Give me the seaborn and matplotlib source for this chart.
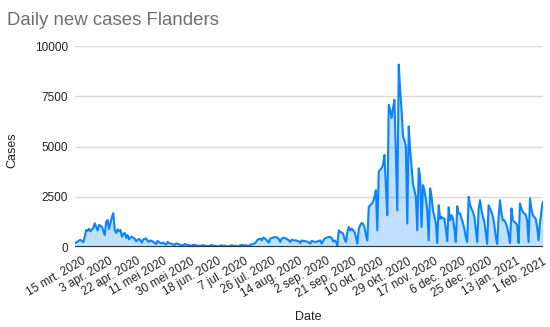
import numpy as np
import pandas as pd
import matplotlib
matplotlib.use("Agg")
import matplotlib.pyplot as plt
import seaborn as sns

# Daily new cases, starting 2020-03-10
cases_mar = [180, 230, 270, 330, 350, 300, 250, 520, 850, 800, 900, 780, 870, 950,
             1180, 1000, 820, 1100, 1050, 1020, 800, 600]
cases_apr = [1260, 1340, 900, 1200, 1500, 1680, 850, 700, 880, 780, 850, 510, 650, 700, 450,
             600, 380, 480, 520, 450, 420, 280, 350, 400, 330, 220, 380, 400, 430, 300]
cases_may = [260, 330, 300, 250, 200, 150, 300, 250, 200, 180, 220, 150, 120, 250, 200, 170,
             150, 130, 100, 180, 160, 130, 110, 90, 80, 150, 120, 100, 90, 70, 60]
cases_jun = [110, 100, 80, 70, 60, 50, 90, 80, 70, 60, 50, 40, 80, 90, 70, 60, 50, 40, 30,
             80, 70, 60, 70, 50, 40, 30, 70, 80, 70, 60]
cases_jul = [60, 40, 40, 90, 100, 90, 80, 90, 60, 50, 120, 130, 150, 180, 250, 350, 400, 415,
             330, 470, 430, 380, 300, 220, 420, 450, 470, 480, 500, 460, 400]
cases_aug = [250, 420, 450, 460, 420, 380, 330, 250, 370, 340, 330, 330, 300, 280, 200, 330,
             300, 300, 280, 260, 230, 170, 300, 280, 260, 250, 280, 300, 330, 170, 300]
cases_sep = [420, 450, 480, 500, 500, 450, 280, 330, 250, 80, 830, 750, 720, 680, 400, 250,
             750, 1000, 830, 920, 830, 750, 500, 170, 900, 1080, 1200, 1150, 1000, 600]
cases_oct = [330, 2000, 2080, 2150, 2250, 2500, 2830, 830, 3750, 3850, 3920, 4080, 4580, 3000,
             1580, 7080, 6830, 6420, 6900, 7330, 4500, 1830, 9080, 7800, 6830, 5500, 5330,
             5000, 1170, 6000, 4830]
cases_nov = [4000, 3170, 2830, 2500, 830, 3920, 3500, 1000, 3080, 2830, 2400, 1830, 330, 2920,
             2500, 1830, 1500, 1200, 200, 2080, 1400, 1500, 1420, 1420, 900, 300, 1970, 1330,
             1580, 1420]
cases_dec = [900, 250, 2030, 1670, 1670, 1420, 1200, 900, 500, 250, 2500, 2100, 1900, 1750,
             1500, 900, 250, 1900, 2330, 1830, 1500, 1250, 700, 150, 2080, 1900, 1750, 1500,
             1100, 500, 150]
cases_jan = [1500, 2330, 1670, 1330, 1330, 1200, 1000, 600, 200, 1920, 1330, 1250, 1200, 1080,
             200, 2170, 1900, 1750, 1670, 1600, 1330, 250, 2420, 1900, 1580, 1500, 1400, 1000,
             330, 1200, 1800]
cases_feb = [2250]

start_date = "2020-03-10"

tick_dates = ["2020-03-15", "2020-04-03", "2020-04-22", "2020-05-11", "2020-05-30",
              "2020-06-18", "2020-07-07", "2020-07-26", "2020-08-14", "2020-09-02",
              "2020-09-21", "2020-10-10", "2020-10-29", "2020-11-17", "2020-12-06",
              "2020-12-25", "2021-01-13", "2021-02-01"]
tick_labels = ["15 mrt. 2020", "3 apr. 2020", "22 apr. 2020", "11 mei 2020", "30 mei 2020",
               "18 jun. 2020", "7 jul. 2020", "26 jul. 2020", "14 aug. 2020", "2 sep. 2020",
               "21 sep. 2020", "10 okt. 2020", "29 okt. 2020", "17 nov. 2020", "6 dec. 2020",
               "25 dec. 2020", "13 jan. 2021", "1 feb. 2021"]
y_ticks = [0, 2500, 5000, 7500, 10000]

cases = (cases_mar + cases_apr + cases_may + cases_jun + cases_jul + cases_aug +
         cases_sep + cases_oct + cases_nov + cases_dec + cases_jan + cases_feb)
dates = pd.date_range(start_date, periods=len(cases), freq="D")
df = pd.DataFrame({"Date": dates, "Cases": cases})

sns.set_style("white")
plt.rcParams['font.family'] = ['Liberation Sans', 'DejaVu Sans']

fig = plt.figure(figsize=(5.5, 3.27), dpi=100)
ax = fig.add_axes([0.136, 0.2446, 0.851, 0.6144])

line_color = "#0a84ff"
ax.fill_between(df["Date"], df["Cases"], 0, color=line_color, alpha=0.25, lw=0, zorder=2)
sns.lineplot(data=df, x="Date", y="Cases", ax=ax, color=line_color, lw=1.5, zorder=3)

ax.set_xlim(dates[0], dates[-1])
ax.set_ylim(0, 10000)
ax.set_yticks(y_ticks)
ax.set_yticklabels([str(v) for v in y_ticks], fontsize=8.5, color="#222222")
ax.set_xticks(pd.to_datetime(tick_dates))
ax.set_xticklabels(tick_labels, rotation=30, ha="right", rotation_mode="anchor",
                   fontsize=8.5, color="#222222")
ax.tick_params(axis="both", length=0, pad=5)
ax.tick_params(axis="x", pad=6)
ax.grid(axis="y", color="#d9d9d9", lw=1, zorder=0)
ax.grid(axis="x", visible=False)
for s in ax.spines.values():
    s.set_visible(False)
ax.axhline(0, color="#333333", lw=1.5, zorder=4)
ax.set_xlabel("")
ax.set_ylabel("")

fig.text(0.013, 0.9235, "Daily new cases Flanders", fontsize=13.4, color="#707070",
         va="baseline", ha="left")
fig.text(12 / 550, 0.54, "Cases", rotation=90, fontsize=9, color="#222222",
         va="center", ha="center")
fig.text(308 / 550, 1 - 316.7 / 327, "Date", fontsize=9, color="#222222",
         va="center", ha="center")

fig.savefig("out.png", dpi=100)
